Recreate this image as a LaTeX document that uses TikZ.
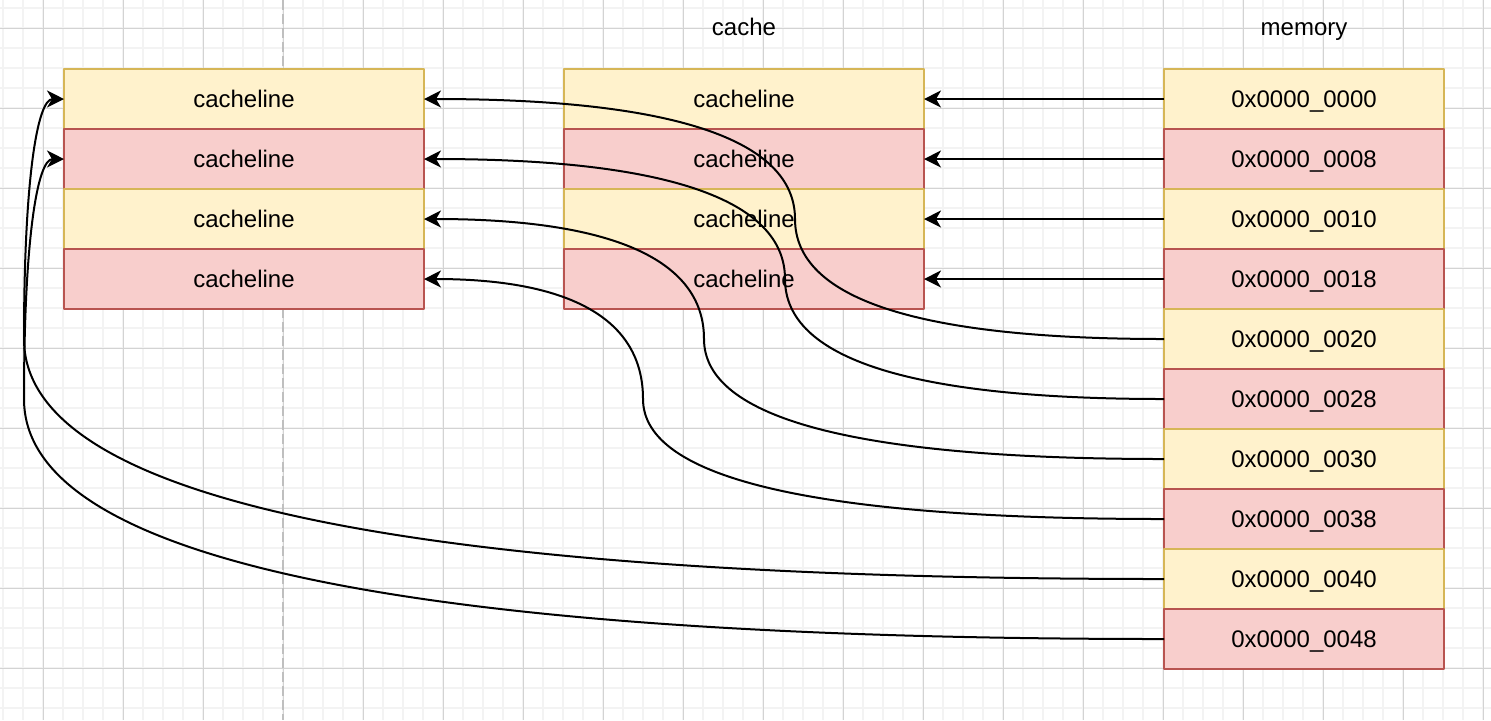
\documentclass[tikz,border=0pt]{standalone}
\usepackage{fontspec}
\setmainfont{Liberation Sans}
\usetikzlibrary{arrows.meta}

\definecolor{yelfill}{HTML}{FFF2CC}
\definecolor{yelline}{HTML}{D6B656}
\definecolor{redfill}{HTML}{F8CECC}
\definecolor{redline}{HTML}{B85450}
\definecolor{gridminor}{HTML}{F3F3F3}
\definecolor{gridmajor}{HTML}{D3D3D3}

\tikzset{
  cell/.style={draw, line width=1pt, minimum height=30pt, inner sep=0pt, outer sep=0pt,
    text height=8.6pt, text depth=0pt, font=\fontsize{12pt}{14pt}\selectfont},
  yelrow/.style={cell, fill=yelfill, draw=yelline},
  redrow/.style={cell, fill=redfill, draw=redline},
  title/.style={text height=8.8pt, text depth=2.5pt, font=\fontsize{12pt}{14pt}\selectfont},
  link/.style={line width=1pt, -{Stealth[length=8.5pt,width=8.5pt,inset=2.5pt]}},
}

\begin{document}
\begin{tikzpicture}[x=0.5pt, y=-0.5pt, line join=round]
  \useasboundingbox (0,0) rectangle (1491,720);

  % background grid
  \foreach \x in {3,23,...,1491}
    \draw[gridminor, line width=1pt] (\x,0) -- (\x,720);
  \foreach \y in {8,28,...,720}
    \draw[gridminor, line width=1pt] (0,\y) -- (1491,\y);
  \foreach \x in {43,123,...,1491}
    \draw[gridmajor, line width=0.5pt] (\x,0) -- (\x,720);
  \foreach \y in {28,108,...,720}
    \draw[gridmajor, line width=0.5pt] (0,\y) -- (1491,\y);
  \draw[black!25, line width=1pt, dash pattern=on 5pt off 2pt] (283,0) -- (283,720);

  % cache columns
  \foreach \i/\kind in {0/yelrow,1/redrow,2/yelrow,3/redrow}{
    \node[\kind, minimum width=180pt] (lft\i) at (244,{99+60*\i}) {cacheline};
    \node[\kind, minimum width=180pt] (mid\i) at (744,{99+60*\i}) {cacheline};
  }
  \node[title] (cachetitle) at (744,29) {cache};

  % memory column
  \foreach \i/\addr/\kind in {0/00/yelrow,1/08/redrow,2/10/yelrow,3/18/redrow,4/20/yelrow,
                              5/28/redrow,6/30/yelrow,7/38/redrow,8/40/yelrow,9/48/redrow}{
    \node[\kind, minimum width=140pt] (mem\i) at (1304,{99+60*\i}) {0x0000\_00\addr};
  }
  \node[title] (memtitle) at (1304,29) {memory};

  % direct mapping
  \foreach \i in {0,...,3}
    \draw[link] (mem\i.west) -- (mid\i.east);

  \foreach \k/\j/\xm/\ym in {4/0/795/219,5/1/785/279,6/2/704/339,7/3/643/399}
    \draw[link] (mem\k.west) .. controls +({-2/3*(1164-\xm)},0) and +(0,80) .. (\xm,\ym)
      .. controls +(0,-80) and +({2/3*(\xm-424)},0) .. (lft\j.east);

  \foreach \k/\j in {8/0,9/1}
    \draw[link] (mem\k.west) .. controls +(-760,0) and +(0,160) .. (24,{339+60*\j})
      .. controls +(0,-160) and +(-26.7,0) .. (lft\j.west);

\end{tikzpicture}
\end{document}
